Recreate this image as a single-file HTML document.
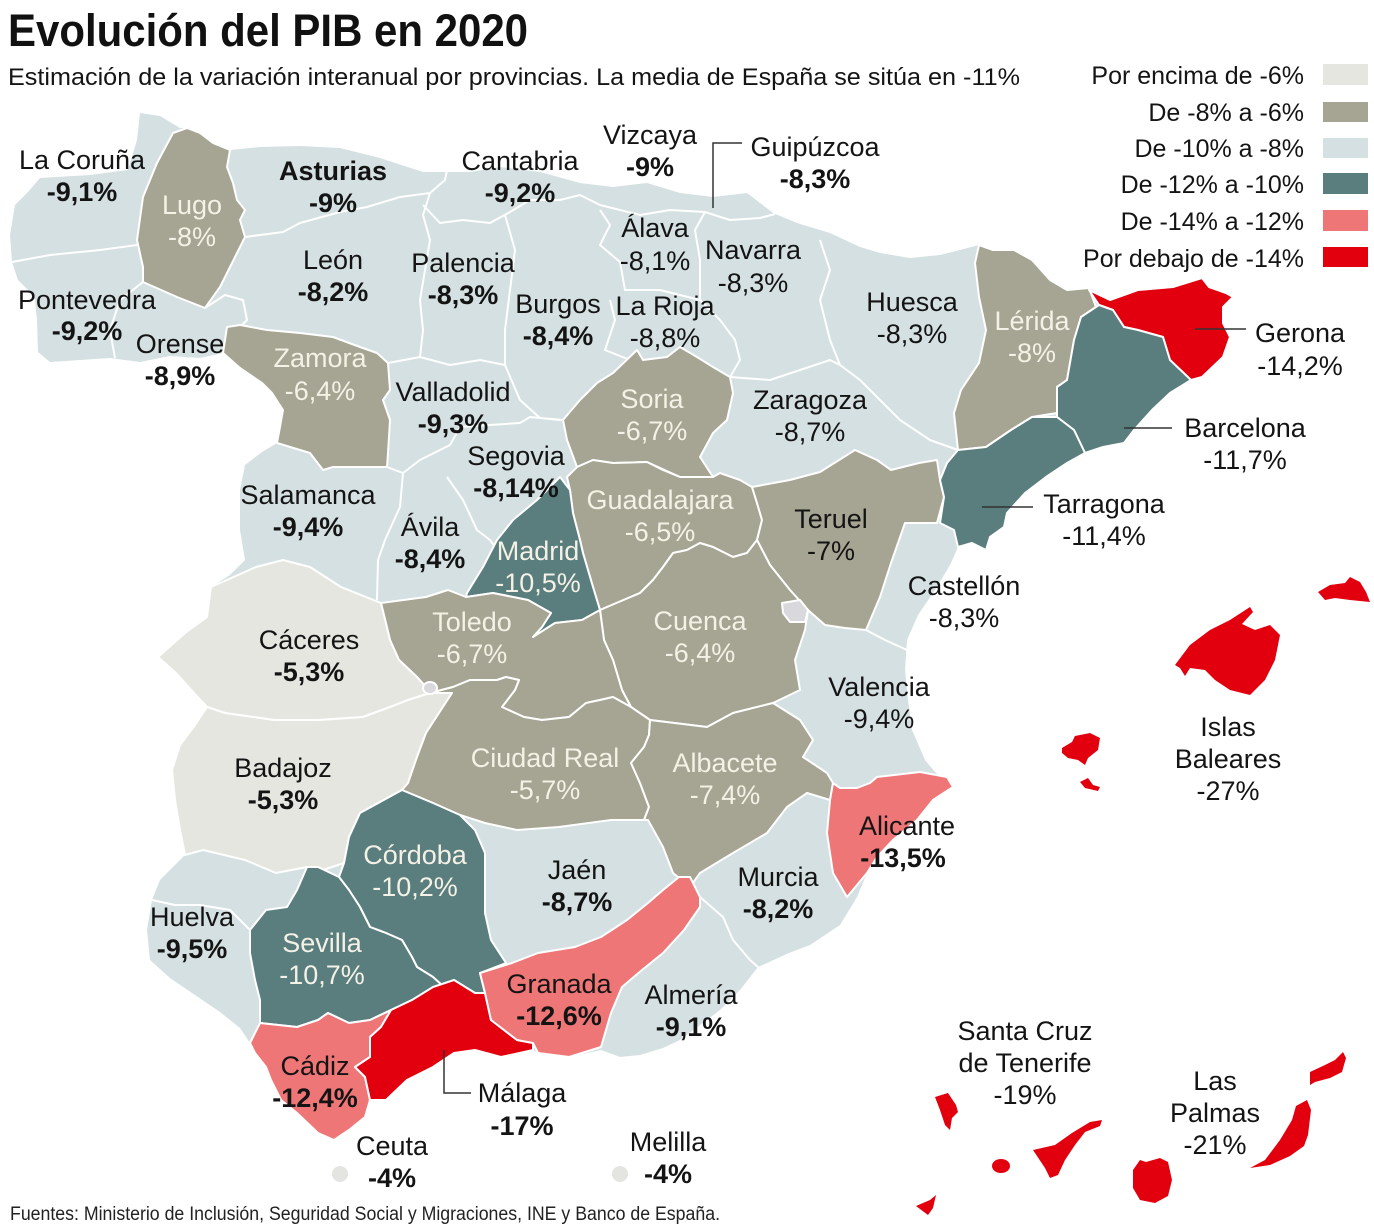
<!DOCTYPE html>
<html><head><meta charset="utf-8">
<style>
html,body{margin:0;padding:0;background:#fff;}
svg{display:block;}
text{font-family:"Liberation Sans",Arial,sans-serif;}
.l{font-size:27px;fill:#141414;text-anchor:middle;}
.b{font-weight:bold;}
.w{fill:#f4f1e6;}
.lg{font-size:25px;fill:#141414;text-anchor:end;}
</style></head>
<body>
<svg width="1374" height="1230" viewBox="0 0 1374 1230" xmlns="http://www.w3.org/2000/svg">
<rect width="1374" height="1230" fill="#fff"/>
<!-- Title -->
<text x="8" y="46" font-size="45" font-weight="bold" fill="#111" textLength="520" lengthAdjust="spacingAndGlyphs">Evolución del PIB en 2020</text>
<text x="8" y="85" font-size="24" fill="#141414" textLength="1012" lengthAdjust="spacingAndGlyphs">Estimación de la variación interanual por provincias. La media de España se sitúa en -11%</text>

<!-- Legend -->
<text class="lg" x="1304" y="84">Por encima de -6%</text>
<text class="lg" x="1304" y="121">De -8% a -6%</text>
<text class="lg" x="1304" y="157">De -10% a -8%</text>
<text class="lg" x="1304" y="193">De -12% a -10%</text>
<text class="lg" x="1304" y="230">De -14% a -12%</text>
<text class="lg" x="1304" y="267">Por debajo de -14%</text>
<rect x="1323" y="64" width="45" height="21" fill="#e6e6e1"/>
<rect x="1323" y="102" width="45" height="20" fill="#a6a492"/>
<rect x="1323" y="138" width="45" height="20" fill="#d5e0e2"/>
<rect x="1323" y="173" width="45" height="21" fill="#5a7d7e"/>
<rect x="1323" y="210" width="45" height="21" fill="#ef7677"/>
<rect x="1323" y="247" width="45" height="20" fill="#e2000f"/>

<!-- Mainland base (light blue) -->
<polygon fill="#d5e0e2" points="40,178 90,175 128,170 137,140 140,113 160,116 180,128 190,128 200,133 213,143 230,150 260,147 300,146 340,148 380,158 423,172 470,172 500,167 540,172 580,183 613,187 647,183 680,193 713,197 747,193 773,213 797,223 830,233 860,247 880,253 910,258 940,255 960,250 979,245 993,250 1014,250 1032,260 1050,280 1067,290 1089,288 1110,300 1138,290 1173,287 1202,278 1209,287 1233,297 1223,307 1223,323 1230,337 1223,357 1202,377 1191,380 1170,393 1152,410 1134,430 1124,443 1103,447 1085,453 1067,463 1046,477 1025,493 1007,513 1004,527 990,537 986,550 972,543 958,547 950,565 935,590 918,615 907,640 905,670 908,700 912,730 925,760 935,772 953,787 933,800 917,820 893,840 877,857 867,873 857,897 840,925 810,945 789,953 758,967 740,990 720,1010 700,1025 680,1040 663,1048 640,1055 620,1057 601,1050 569,1057 538,1053 533,1050 501,1057 475,1050 454,1053 433,1067 407,1080 386,1100 370,1100 365,1117 349,1130 334,1140 318,1133 297,1113 281,1100 271,1080 266,1067 255,1053 250,1043 240,1028 220,1012 195,995 170,978 150,960 147,930 152,900 160,880 175,865 185,855 180,830 175,800 172,770 180,745 195,725 207,707 194,693 176,673 158,657 185,633 207,617 211,587 230,575 245,560 240,530 240,490 245,465 262,452 277,443 280,427 283,410 272,393 262,383 240,368 223,353 200,358 170,356 140,362 110,358 80,360 50,362 38,352 37,320 35,300 28,290 18,280 12,262 10,235 15,205 28,192"/>

<!-- internal borders of light-blue provinces -->
<path fill="none" stroke="#fff" stroke-width="2" stroke-linejoin="round" d="
M12,262 L50,255 L100,250 L137,245
M143,282 L120,300 L110,330 L115,358
M205,308 L225,295 L243,300 L247,320 L240,327
M245,237 L283,232 L300,223 L340,212 L367,207 L400,197 L430,193 L445,180 L448,165
M423,205 L440,223 L463,220 L490,223 L510,212 L530,200 L560,200 L580,195 L600,205
M430,193 L423,215 L430,240 L425,270 L420,300 L423,330 L420,357
M388,363 L420,357 L450,365 L480,360 L505,365
M505,215 L515,250 L510,290 L505,330 L505,365 L520,400 L540,418 L563,420
M387,467 L403,473 L420,460 L450,445 L460,427 L490,425 L520,423 L530,417 L560,420
M403,473 L400,507 L385,540 L378,560 L377,600
M447,477 L463,500 L477,530 L490,540 L497,550
M600,205 L640,215 L670,210 L705,212
M600,210 L610,225 L600,245 L620,262 L625,290 L660,290 L700,300
M610,300 L615,320 L605,350 L630,360 L637,352
M700,300 L720,320 L735,340 L740,360 L730,377
M700,300 L700,260 L695,230 L705,212 L730,220 L760,218 L775,214
M820,240 L830,270 L820,300 L830,340 L840,365
M730,377 L770,380 L800,370 L830,360 L840,365 L860,380 L880,400 L900,420 L930,440 L958,450
M866,630 L885,640 L907,650
M690,887 L700,897 L723,917 L733,940 L750,960 L758,967
M152,900 L175,905 L200,905 L230,910 L250,930
"/>

<g stroke="#fff" stroke-width="2" stroke-linejoin="round">
<!-- Lugo -->
<polygon fill="#a6a492" points="187,128 173,133 157,163 143,197 137,240 143,267 143,282 177,297 205,308 220,287 230,267 240,247 245,237 240,220 245,210 237,200 233,183 227,167 230,150 213,143 200,133"/>
<!-- Zamora -->
<polygon fill="#a6a492" points="227,327 240,325 267,330 300,333 333,337 360,347 377,353 388,363 390,390 383,400 390,420 388,453 387,467 333,467 323,470 310,453 277,443 280,427 283,410 272,393 262,383 240,368 223,353"/>
<!-- Soria -->
<polygon fill="#a6a492" points="563,420 580,400 597,383 613,373 637,350 643,360 667,357 680,347 697,357 713,367 730,377 733,393 727,420 713,433 700,457 713,477 680,477 647,462 613,463 593,460 577,467 567,440"/>
<!-- Guadalajara -->
<polygon fill="#a6a492" points="567,477 577,467 593,460 613,463 647,462 663,470 680,477 713,477 720,473 740,480 752,487 757,503 762,520 757,540 747,553 733,557 713,547 700,543 687,550 673,553 663,567 653,580 640,593 600,610 593,587 583,553 580,540 573,513 570,490"/>
<!-- Madrid -->
<polygon fill="#5a7d7e" points="560,477 570,490 573,513 580,540 583,553 593,587 600,610 582,620 555,623 533,637 542,627 551,613 528,600 493,593 466,597 467,593 483,567 497,540 513,520 537,500"/>
<!-- Teruel -->
<polygon fill="#a6a492" points="762,520 757,503 752,487 790,480 820,472 855,450 877,460 891,470 919,463 937,460 940,480 944,497 937,523 905,523 898,543 891,563 880,597 866,630 845,628 825,625 808,610 790,590 770,565 757,540"/>
<!-- Cuenca -->
<polygon fill="#a6a492" points="600,610 640,593 653,580 663,567 673,553 687,550 700,543 713,547 733,557 747,553 757,540 770,565 790,590 808,610 805,630 795,660 800,690 773,703 733,713 707,727 650,720 631,707 622,690 613,660 604,640"/>
<!-- Toledo -->
<polygon fill="#a6a492" points="381,603 426,597 448,590 466,597 493,593 528,600 551,613 542,627 533,637 555,623 582,620 600,610 604,640 613,660 622,690 631,707 613,697 600,700 586,703 569,717 542,720 524,717 502,707 515,690 519,680 506,677 497,680 470,680 453,687 430,693 426,687 417,677 399,660 390,640"/>
<!-- Caceres -->
<polygon fill="#e6e6e1" points="211,587 256,567 283,560 310,567 341,587 381,603 390,640 399,660 417,677 426,687 430,693 408,700 390,707 363,717 319,720 274,720 225,713 207,707 194,693 176,673 158,657 185,633 207,617"/>
<!-- Badajoz -->
<polygon fill="#e6e6e1" points="207,707 225,713 274,720 319,720 363,717 390,707 408,700 430,693 452,693 426,733 417,757 408,783 402,790 360,813 349,837 344,863 323,870 307,867 276,873 245,860 203,850 185,855 180,830 175,800 172,770 180,745 195,725"/>
<!-- Ciudad Real -->
<polygon fill="#a6a492" points="430,693 453,687 470,680 497,680 506,677 519,680 515,690 502,707 524,717 542,720 569,717 586,703 600,700 613,697 631,707 650,720 649,735 644,747 631,763 640,783 649,807 644,820 611,820 559,827 517,830 485,823 460,815 433,803 402,790 408,783 417,757 426,733 452,693"/>
<!-- Albacete -->
<polygon fill="#a6a492" points="650,720 707,727 733,713 773,703 800,720 813,740 803,757 827,773 833,783 830,800 807,793 787,807 767,833 733,853 700,873 690,887 673,873 663,847 648,820 644,820 649,807 640,783 631,763 644,747 649,735"/>
<!-- Alicante -->
<polygon fill="#ef7677" points="833,783 840,788 857,788 870,783 877,777 920,772 947,777 953,787 933,800 917,820 893,840 877,857 867,873 847,897 833,873 827,833 830,800"/>
<!-- Lerida -->
<polygon fill="#a6a492" points="979,245 993,250 1014,250 1032,260 1050,280 1067,290 1089,288 1096,307 1081,317 1074,340 1067,380 1057,387 1057,413 1032,417 1011,430 986,447 958,450 954,413 961,390 979,363 986,330 979,297 975,263"/>
<!-- Gerona -->
<polygon fill="#e2000f" points="1089,290 1110,300 1138,290 1173,287 1202,278 1209,287 1226,293 1233,297 1223,307 1223,323 1230,337 1223,357 1202,377 1191,380 1170,360 1163,337 1138,330 1124,327 1113,310 1099,305"/>
<!-- Barcelona -->
<polygon fill="#5a7d7e" points="1099,305 1113,310 1124,327 1138,330 1163,337 1170,360 1191,380 1170,393 1152,410 1134,430 1124,443 1103,447 1085,453 1074,430 1057,417 1057,387 1067,380 1074,340 1081,317"/>
<!-- Tarragona -->
<polygon fill="#5a7d7e" points="1057,417 1074,430 1085,453 1067,463 1046,477 1025,493 1007,513 1004,527 990,537 986,550 972,543 958,547 954,530 940,523 944,497 940,480 947,463 958,450 986,447 1011,430 1032,417"/>
<!-- Cordoba -->
<polygon fill="#5a7d7e" points="402,790 433,803 460,815 475,830 485,853 485,880 485,913 491,940 506,963 480,973 485,993 475,993 454,980 444,987 433,977 417,967 412,957 402,940 386,933 370,927 360,907 349,890 339,877 344,863 349,837 360,813"/>
<!-- Sevilla -->
<polygon fill="#5a7d7e" points="318,867 339,877 349,890 360,907 370,927 386,933 402,940 412,957 417,967 433,977 444,987 433,990 412,1000 391,1010 370,1020 349,1023 328,1013 318,1020 297,1027 260,1023 260,1000 255,980 250,953 250,930 266,910 287,907 297,890 307,867"/>
<!-- Cadiz -->
<polygon fill="#ef7677" points="260,1023 297,1027 318,1020 328,1013 349,1023 370,1020 391,1010 381,1027 370,1037 370,1057 355,1067 365,1077 370,1100 365,1117 349,1130 334,1140 318,1133 297,1113 281,1100 271,1080 266,1067 255,1053 250,1043"/>
<!-- Malaga -->
<polygon fill="#e2000f" points="454,980 475,993 485,993 491,1020 517,1040 533,1043 533,1050 501,1057 475,1050 454,1053 433,1067 407,1080 386,1100 370,1100 365,1077 355,1067 370,1057 370,1037 381,1027 391,1010 412,1000 433,987"/>
<!-- Granada -->
<polygon fill="#ef7677" points="690,877 700,897 700,907 684,930 663,953 642,970 622,987 611,1013 601,1047 569,1057 538,1053 533,1043 517,1040 491,1020 485,993 480,973 512,963 538,953 575,947 601,937 627,920 648,903 663,890 679,877"/>
<!-- small enclaves -->
<polygon fill="#d9d9dd" points="782,603 800,600 808,610 805,622 790,622 783,613"/>
<ellipse cx="430" cy="688" rx="7" ry="6" fill="#d9d9dd"/>
</g>

<!-- Islands -->
<g fill="#e2000f">
<polygon points="1175,665 1190,645 1210,630 1230,620 1250,607 1253,612 1242,624 1255,630 1270,625 1280,635 1275,660 1265,680 1250,695 1230,690 1215,680 1205,670 1190,668 1185,676 1180,668"/>
<polygon points="1318,592 1330,585 1345,583 1350,577 1360,582 1366,592 1370,602 1350,600 1335,598 1325,600"/>
<polygon points="1062,748 1072,742 1075,736 1090,733 1100,738 1098,750 1088,758 1085,765 1078,760 1068,758 1062,753"/>
<polygon points="1080,782 1088,778 1093,785 1100,787 1098,791 1085,788"/>
<polygon points="935,1097 948,1093 956,1105 958,1112 952,1118 950,1130 945,1125 940,1110"/>
<polygon points="1033,1150 1055,1145 1072,1133 1090,1122 1102,1120 1100,1126 1085,1132 1075,1145 1065,1160 1058,1175 1050,1178 1045,1168"/>
<ellipse cx="1001" cy="1166" rx="9" ry="7"/>
<polygon points="916,1206 930,1200 936,1195 933,1208 928,1215"/>
<polygon points="1133,1170 1140,1160 1146,1162 1160,1158 1168,1162 1172,1180 1168,1196 1155,1203 1140,1200 1133,1188"/>
<polygon points="1250,1168 1265,1160 1280,1140 1292,1120 1296,1106 1307,1100 1311,1110 1308,1135 1304,1146 1290,1156 1270,1165"/>
<polygon points="1310,1072 1325,1065 1335,1060 1343,1052 1346,1058 1342,1072 1330,1078 1315,1082 1310,1085"/>
</g>
<circle cx="340" cy="1174" r="8" fill="#e4e4e0"/>
<circle cx="620" cy="1174" r="8" fill="#e4e4e0"/>

<!-- leader lines -->
<g stroke="#333" stroke-width="1.5" fill="none">
<polyline points="713,208 713,143 742,143"/>
<line x1="1195" y1="329" x2="1246" y2="329"/>
<line x1="1124" y1="428" x2="1172" y2="428"/>
<line x1="982" y1="507" x2="1033" y2="507"/>
<polyline points="444,1050 444,1093 471,1093"/>
</g>

<!-- Labels -->
<text class="l" x="82" y="169">La Coruña</text><text class="l b" x="82" y="201">-9,1%</text>
<text class="l w" x="192" y="214">Lugo</text><text class="l w" x="192" y="246">-8%</text>
<text class="l b" x="333" y="180">Asturias</text><text class="l b" x="333" y="212">-9%</text>
<text class="l" x="520" y="170">Cantabria</text><text class="l b" x="520" y="202">-9,2%</text>
<text class="l" x="650" y="144">Vizcaya</text><text class="l b" x="650" y="176">-9%</text>
<text class="l" x="815" y="156">Guipúzcoa</text><text class="l b" x="815" y="188">-8,3%</text>
<text class="l" x="333" y="269">León</text><text class="l b" x="333" y="301">-8,2%</text>
<text class="l" x="463" y="272">Palencia</text><text class="l b" x="463" y="304">-8,3%</text>
<text class="l" x="655" y="237">Álava</text><text class="l" x="655" y="270">-8,1%</text>
<text class="l" x="753" y="259">Navarra</text><text class="l" x="753" y="292">-8,3%</text>
<text class="l" x="558" y="313">Burgos</text><text class="l b" x="558" y="345">-8,4%</text>
<text class="l" x="665" y="315">La Rioja</text><text class="l" x="665" y="347">-8,8%</text>
<text class="l" x="912" y="311">Huesca</text><text class="l" x="912" y="343">-8,3%</text>
<text class="l w" x="1032" y="330">Lérida</text><text class="l w" x="1032" y="362">-8%</text>
<text class="l" x="1300" y="342">Gerona</text><text class="l" x="1300" y="375">-14,2%</text>
<text class="l" x="87" y="309">Pontevedra</text><text class="l b" x="87" y="340">-9,2%</text>
<text class="l" x="180" y="353">Orense</text><text class="l b" x="180" y="385">-8,9%</text>
<text class="l w" x="320" y="367">Zamora</text><text class="l w" x="320" y="400">-6,4%</text>
<text class="l" x="453" y="401">Valladolid</text><text class="l b" x="453" y="433">-9,3%</text>
<text class="l w" x="652" y="408">Soria</text><text class="l w" x="652" y="440">-6,7%</text>
<text class="l" x="810" y="409">Zaragoza</text><text class="l" x="810" y="441">-8,7%</text>
<text class="l" x="1245" y="437">Barcelona</text><text class="l" x="1245" y="469">-11,7%</text>
<text class="l" x="516" y="465">Segovia</text><text class="l b" x="516" y="497">-8,14%</text>
<text class="l" x="308" y="504">Salamanca</text><text class="l b" x="308" y="536">-9,4%</text>
<text class="l w" x="660" y="509">Guadalajara</text><text class="l w" x="660" y="541">-6,5%</text>
<text class="l" x="831" y="528">Teruel</text><text class="l" x="831" y="560">-7%</text>
<text class="l" x="1104" y="513">Tarragona</text><text class="l" x="1104" y="545">-11,4%</text>
<text class="l" x="430" y="536">Ávila</text><text class="l b" x="430" y="568">-8,4%</text>
<text class="l w" x="538" y="560">Madrid</text><text class="l w" x="538" y="592">-10,5%</text>
<text class="l" x="964" y="595">Castellón</text><text class="l" x="964" y="627">-8,3%</text>
<text class="l w" x="472" y="631">Toledo</text><text class="l w" x="472" y="663">-6,7%</text>
<text class="l w" x="700" y="630">Cuenca</text><text class="l w" x="700" y="662">-6,4%</text>
<text class="l" x="309" y="649">Cáceres</text><text class="l b" x="309" y="681">-5,3%</text>
<text class="l" x="879" y="696">Valencia</text><text class="l" x="879" y="728">-9,4%</text>
<text class="l" x="1228" y="736">Islas</text><text class="l" x="1228" y="768">Baleares</text><text class="l" x="1228" y="800">-27%</text>
<text class="l" x="283" y="777">Badajoz</text><text class="l b" x="283" y="809">-5,3%</text>
<text class="l w" x="545" y="767">Ciudad Real</text><text class="l w" x="545" y="799">-5,7%</text>
<text class="l w" x="725" y="772">Albacete</text><text class="l w" x="725" y="804">-7,4%</text>
<text class="l" x="907" y="835">Alicante</text><text class="l b" x="903" y="867">-13,5%</text>
<text class="l w" x="415" y="864">Córdoba</text><text class="l w" x="415" y="896">-10,2%</text>
<text class="l" x="577" y="879">Jaén</text><text class="l b" x="577" y="911">-8,7%</text>
<text class="l" x="778" y="886">Murcia</text><text class="l b" x="778" y="918">-8,2%</text>
<text class="l" x="192" y="926">Huelva</text><text class="l b" x="192" y="958">-9,5%</text>
<text class="l w" x="322" y="952">Sevilla</text><text class="l w" x="322" y="984">-10,7%</text>
<text class="l" x="559" y="993">Granada</text><text class="l b" x="559" y="1025">-12,6%</text>
<text class="l" x="691" y="1004">Almería</text><text class="l b" x="691" y="1036">-9,1%</text>
<text class="l" x="1025" y="1040">Santa Cruz</text><text class="l" x="1025" y="1072">de Tenerife</text><text class="l" x="1025" y="1104">-19%</text>
<text class="l" x="1215" y="1090">Las</text><text class="l" x="1215" y="1122">Palmas</text><text class="l" x="1215" y="1154">-21%</text>
<text class="l" x="315" y="1075">Cádiz</text><text class="l b" x="315" y="1107">-12,4%</text>
<text class="l" x="522" y="1102">Málaga</text><text class="l b" x="522" y="1135">-17%</text>
<text class="l" x="392" y="1155">Ceuta</text><text class="l b" x="392" y="1187">-4%</text>
<text class="l" x="668" y="1151">Melilla</text><text class="l b" x="668" y="1183">-4%</text>

<text x="10" y="1220" font-size="19" fill="#222" textLength="710" lengthAdjust="spacingAndGlyphs">Fuentes: Ministerio de Inclusión, Seguridad Social y Migraciones, INE y Banco de España.</text>
</svg>
</body></html>
